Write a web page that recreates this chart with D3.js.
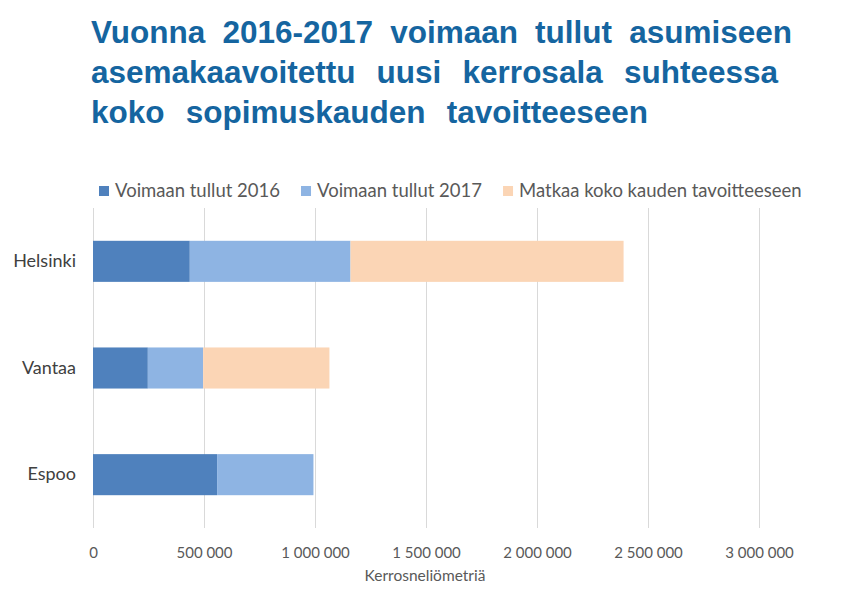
<!DOCTYPE html>
<html><head><meta charset="utf-8">
<script src="https://cdn.jsdelivr.net/npm/d3@7"></script>
<style>body{margin:0;background:#fff;} svg{display:block;}</style>
</head><body>
<svg id="chart" width="841" height="610"></svg>
<script>
const titleLines = ["Vuonna 2016-2017 voimaan tullut asumiseen","asemakaavoitettu uusi kerrosala suhteessa","koko sopimuskauden tavoitteeseen"];
const categories = ["Helsinki","Vantaa","Espoo"];
const seriesNames = ["Voimaan tullut 2016","Voimaan tullut 2017","Matkaa koko kauden tavoitteeseen"];
const values2016 = [436000, 247000, 559000];
const values2017 = [724000, 249000, 434000];
const remaining = [1230000, 569000, 0];
const tickValues = [0,500000,1000000,1500000,2000000,2500000,3000000];
const axisTitle = "Kerrosneliömetriä";
const colors = ["#4f81bd","#8eb4e3","#fbd5b5"];

const svg = d3.select("#chart");
const font = "Lato, 'Open Sans', sans-serif";

// title, word spacing widened to the reference line widths
const titleWidths = [701, 687, 557];
svg.selectAll("text.title").data(titleLines).join("text")
  .attr("class","title")
  .attr("x",91).attr("y",(d,i)=>43+i*40)
  .attr("font-family","'Liberation Sans', Arial, sans-serif")
  .attr("font-weight","bold").attr("font-size",31.5)
  .attr("fill","#1565a0").text(d=>d)
  .each(function(d,i){
    const w = this.getComputedTextLength();
    const spaces = d.split(" ").length-1;
    d3.select(this).attr("word-spacing", Math.max(0,(titleWidths[i]-w)/spaces));
  });

const x = d3.scaleLinear().domain([0,3000000]).range([93,759]);
const y = d3.scaleBand().domain(categories).range([208,528]).paddingInner(0.615).paddingOuter(0.3075);

// gridlines
svg.append("g").selectAll("line").data(tickValues).join("line")
  .attr("x1",d=>x(d)).attr("x2",d=>x(d)).attr("y1",208).attr("y2",528)
  .attr("stroke","#d9d9d9").attr("stroke-width",1).attr("shape-rendering","crispEdges");

// stacked data
const rows = categories.map((c,i)=>({cat:c, s0:values2016[i], s1:values2017[i], s2:remaining[i]}));
const stack = d3.stack().keys(["s0","s1","s2"])(rows);
svg.append("g").selectAll("g").data(stack).join("g")
  .attr("fill",(d,i)=>colors[i])
  .selectAll("rect").data(d=>d).join("rect")
  .attr("x",d=>x(d[0])).attr("width",d=>x(d[1])-x(d[0]))
  .attr("y",d=>y(d.data.cat)).attr("height",y.bandwidth());

// x axis labels
const loc = d3.formatLocale({decimal:",", thousands:"\u00a0", grouping:[3], currency:["","€"]});
const fmt = loc.format(",d");
const xAxis = d3.axisBottom(x).tickValues(tickValues).tickFormat(fmt).tickSize(0).tickPadding(0);
const gx = svg.append("g").attr("transform","translate(0,547)").call(xAxis);
gx.select(".domain").remove();
gx.selectAll("text").attr("font-family",font).attr("font-size",15).attr("fill","#595959").attr("dy","0.71em");

// y axis labels
const yAxis = d3.axisLeft(y).tickSize(0).tickPadding(0);
const gy = svg.append("g").attr("transform","translate(76,0)").call(yAxis);
gy.select(".domain").remove();
gy.selectAll("text").attr("font-family",font).attr("font-size",18).attr("fill","#404040");

// axis title
svg.append("text").attr("x",425).attr("y",581).attr("text-anchor","middle")
  .attr("font-family",font).attr("font-size",15.5).attr("fill","#595959").text(axisTitle);

// legend
const leg = svg.append("g").attr("transform","translate(99,191)");
let lx = 0;
seriesNames.forEach((name,i)=>{
  const g = leg.append("g").attr("transform",`translate(${lx},0)`);
  g.append("rect").attr("x",0).attr("y",-5).attr("width",10).attr("height",10).attr("fill",colors[i]);
  const t = g.append("text").attr("x",16).attr("y",0).attr("dy","0.35em")
    .attr("font-family",font).attr("font-size",18.5).attr("fill","#595959").text(name);
  lx += 16 + t.node().getComputedTextLength() + 21;
});
</script>
</body></html>
